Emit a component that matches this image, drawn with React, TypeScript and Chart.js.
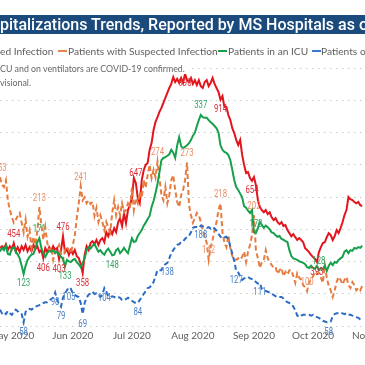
import React, { useEffect, useRef } from "react";
import { Chart, registerables } from "chart.js";
Chart.register(...registerables);

// Day index 0 = 2020-04-25, one category per day
const START = new Date(2020, 3, 25);
const DAY_COUNT = 192;
const MONTHS = ["Jan","Feb","Mar","Apr","May","Jun","Jul","Aug","Sep","Oct","Nov","Dec"];

const confirmed = [
  438,444,438,451,432,444,435,454,428,441,
  425,444,432,448,428,441,428,448,435,444,
  425,432,406,438,425,441,428,444,432,438,
  403,432,476,425,435,416,432,419,432,412,
  406,387,358,416,444,432,454,460,451,464,
  448,464,470,457,489,476,496,483,502,489,
  521,534,509,550,518,560,576,598,663,647,
  598,582,656,688,705,711,753,775,817,843,
  858,875,888,904,920,936,952,965,987,971,
  981,968,984,968,998,977,971,984,965,977,
  961,977,958,952,971,977,958,968,984,965,
  952,939,914,926,891,891,865,849,823,807,
  785,769,785,737,705,679,682,663,654,666,
  640,592,570,560,553,560,547,553,537,528,
  534,521,515,521,509,512,496,486,476,483,
  473,464,470,464,457,438,432,425,416,409,
  403,393,425,441,454,457,473,486,480,464,
  476,496,486,502,521,544,560,602,595,592,
  586,582,586,576,573
];
const suspected = [
  253,243,240,249,222,209,200,192,196,201,
  205,192,179,196,173,182,158,173,162,182,
  213,189,169,186,165,155,159,142,153,157,
  162,149,142,155,159,155,151,162,175,198,
  218,241,222,226,218,222,217,220,201,212,
  193,202,193,182,193,185,179,205,222,202,
  213,202,218,206,209,218,212,239,209,225,
  218,233,225,249,239,256,270,252,263,253,
  274,252,229,222,240,218,229,249,256,236,
  220,213,229,236,249,273,216,202,192,198,
  205,202,193,182,173,165,142,159,169,182,
  193,209,218,179,165,159,175,158,147,144,
  142,144,142,146,153,139,153,162,175,202,
  155,144,131,139,142,155,144,139,135,131,
  132,123,128,131,120,126,122,128,128,120,
  111,124,118,115,108,105,100,112,115,120,
  126,123,124,118,111,135,118,107,101,92,
  101,112,119,115,109,115,119,108,104,112,
  108,101,104,101,107
];
const icu = [
  153,158,155,161,150,149,157,159,153,149,
  144,134,123,134,142,146,149,150,158,166,
  171,158,151,146,151,154,153,155,151,153,
  149,146,144,133,142,140,139,142,143,139,
  136,132,138,144,155,159,157,161,163,158,
  153,155,151,149,154,157,153,148,149,155,
  157,151,154,158,154,151,161,171,166,167,
  174,178,182,188,192,197,201,213,221,232,
  244,260,276,279,280,282,284,290,286,279,
  296,307,295,292,294,296,299,303,309,313,
  322,330,337,334,333,333,330,327,325,322,
  319,313,296,290,287,286,283,276,263,249,
  240,236,231,226,214,212,208,205,209,179,
  178,185,193,189,185,188,186,183,179,178,
  175,173,174,170,169,167,166,155,147,144,
  143,142,140,139,138,136,132,131,134,131,
  130,134,128,131,129,134,127,134,138,135,
  139,138,142,144,146,153,155,151,155,154,
  158,157,159,158,161
];
const ventilators = [
  75,70,72,69,73,70,68,72,75,73,
  70,69,58,72,75,76,75,77,79,80,
  81,83,84,85,85,88,89,91,98,88,
  83,79,91,97,101,105,103,97,95,93,
  92,84,69,84,91,95,97,99,96,97,
  95,92,95,104,99,93,92,93,92,91,
  92,91,88,88,89,91,89,87,85,84,
  84,88,92,96,100,104,105,108,112,120,
  128,128,128,134,136,138,144,151,155,159,
  162,163,166,167,170,173,174,179,185,186,
  186,185,188,187,186,185,186,184,186,184,
  181,177,173,171,172,173,170,160,150,140,
  127,125,120,115,117,118,119,117,116,115,
  112,110,111,103,101,100,99,98,96,95,
  93,92,92,92,90,87,85,84,82,79,
  74,67,65,67,68,68,68,68,67,68,
  66,65,64,62,60,59,58,58,59,66,
  69,70,70,71,70,69,70,68,68,67,
  66,65,64,62,61
];

// indices of points that carry a data label: [index, "a"bove | "b"elow]
const confirmedLabels = [[7,"a"],[22,"b"],[30,"b"],[32,"a"],[42,"b"],[69,"a"],[94,"b"],[112,"b"],[128,"b"],[161,"b"]];
const suspectedLabels = [[0,"a"],[20,"a"],[41,"a"],[80,"a"],[95,"a"],[106,"a"],[112,"a"],[129,"a"],[156,"a"]];
const icuLabels = [[12,"b"],[20,"a"],[33,"b"],[57,"b"],[102,"a"],[130,"a"],[162,"a"]];
const ventLabels = [[12,"b"],[28,"b"],[31,"b"],[35,"b"],[42,"b"],[53,"b"],[70,"b"],[85,"b"],[102,"b"],[120,"b"],[132,"b"],[167,"b"]];

const dates: Date[] = [];
for (let i = 0; i < DAY_COUNT; i++) {
  dates.push(new Date(START.getFullYear(), START.getMonth(), START.getDate() + i));
}
const categories = dates.map((d) => `${d.getFullYear()}-${d.getMonth() + 1}-${d.getDate()}`);

const labelPlugin = {
  id: "pointLabels",
  afterDatasetsDraw(chart: any) {
    const ctx = chart.ctx;
    ctx.save();
    ctx.font = "10px Roboto, sans-serif";
    ctx.textAlign = "center";
    ctx.textBaseline = "middle";
    chart.data.datasets.forEach((ds: any, di: number) => {
      const meta = chart.getDatasetMeta(di);
      ctx.fillStyle = ds.labelColor;
      ds.labelIdx.forEach(([i, pos]: [number, string]) => {
        const el = meta.data[i];
        if (!el) return;
        const y = pos === "a" ? el.y - 9 : el.y + 10;
        ctx.save();
        ctx.translate(el.x, y);
        ctx.scale(0.78, 1);
        ctx.fillText(String(ds.data[i]), 0, 0);
        ctx.restore();
      });
    });
    ctx.restore();
  },
};

function ChartCanvas() {
  const ref = useRef<HTMLCanvasElement>(null);
  useEffect(() => {
    if (!ref.current) return;
    const chart = new Chart(ref.current, {
      type: "line",
      data: {
        labels: categories,
        datasets: [
          { label: "Patients with Confirmed Infection", data: confirmed, yAxisID: "y2", borderColor: "#e3151c", borderWidth: 2, pointRadius: 0, tension: 0, order: 4, labelIdx: confirmedLabels, labelColor: "#de2f3a" } as any,
          { label: "Patients with Suspected Infection", data: suspected, yAxisID: "y", borderColor: "#e67c3f", borderWidth: 2, borderDash: [5, 3], pointRadius: 0, tension: 0, order: 3, labelIdx: suspectedLabels, labelColor: "#e8916a" } as any,
          { label: "Patients in an ICU", data: icu, yAxisID: "y", borderColor: "#17a04b", borderWidth: 2, pointRadius: 0, tension: 0, order: 2, labelIdx: icuLabels, labelColor: "#36a366" } as any,
          { label: "Patients on Ventilators", data: ventilators, yAxisID: "y", borderColor: "#2b6cc4", borderWidth: 2, borderDash: [5, 3], pointRadius: 0, tension: 0, order: 1, labelIdx: ventLabels, labelColor: "#4a82c6" } as any,
        ],
      },
      options: {
        animation: false,
        responsive: false,
        maintainAspectRatio: false,
        devicePixelRatio: 1,
        layout: { padding: 0 },
        plugins: { legend: { display: false }, title: { display: false }, tooltip: { enabled: false } },
        scales: {
          x: {
            type: "category",
            grid: { display: false, drawTicks: false },
            border: { display: false },
            ticks: {
              autoSkip: false,
              maxRotation: 0,
              minRotation: 0,
              padding: 4,
              color: "#605e5c",
              font: { size: 10, family: "'Segoe UI', Lato, sans-serif" },
              callback: (_v: any, idx: number) => {
                const d = dates[idx];
                return d && d.getDate() === 1 ? `${MONTHS[d.getMonth()]} 2020` : "";
              },
            },
            afterFit: (s: any) => { s.height = 30; },
          },
          g: {
            type: "linear",
            position: "left",
            min: 0,
            max: 8,
            ticks: { stepSize: 1, display: false },
            grid: { color: "#c9c9c9", drawTicks: false, lineWidth: 1 },
            border: { display: false, dash: [1.5, 4.5] },
            afterFit: (s: any) => { s.width = 0; },
          },
          y: { type: "linear", display: false, min: 53, max: 400 },
          y2: { type: "linear", display: false, min: 188, max: 1016 },
        },
      } as any,
      plugins: [labelPlugin],
    });
    return () => chart.destroy();
  }, []);
  return <canvas ref={ref} width={384} height={288} style={{ position: "absolute", left: -4, top: 68, width: 384, height: 288 }} />;
}

const legendFont = "Lato, 'Segoe UI', sans-serif";

export default function App() {
  const marker = (color: string, left: number) => (
    <span style={{ position: "absolute", left, top: 50, width: 9, height: 2, background: color }} />
  );
  return (
    <div style={{ position: "fixed", left: 0, top: 0, width: 365, height: 365, overflow: "hidden", background: "#fff" }}>
      <ChartCanvas />
      <div style={{ position: "absolute", left: 0, top: 15, width: 365, height: 19, background: "#1b4a7c" }} />
      <div style={{ position: "absolute", left: 0, top: 15, height: 19, lineHeight: "19px", color: "#fff", fontFamily: "Roboto, sans-serif", fontWeight: 500, fontSize: 16, whiteSpace: "nowrap" }}>
        pitalizations Trends, Reported by MS Hospitals as of
      </div>
      <div style={{ position: "absolute", left: 0, top: 44, height: 14, lineHeight: "14px", color: "#605e5c", fontFamily: legendFont, fontSize: 10.2, whiteSpace: "nowrap" }}>
        <span style={{ position: "absolute", left: 0 }}>ed Infection</span>
        <span style={{ position: "absolute", left: 68 }}>Patients with Suspected Infection</span>
        <span style={{ position: "absolute", left: 228 }}>Patients in an ICU</span>
        <span style={{ position: "absolute", left: 321 }}>Patients o</span>
      </div>
      {marker("#e8834e", 58)}
      {marker("#18a04c", 218)}
      {marker("#3a78c9", 312)}
      <div style={{ position: "absolute", left: 0, top: 62, lineHeight: "13px", color: "#666", fontFamily: legendFont, fontSize: 8.8, whiteSpace: "nowrap" }}>
        <div><span style={{ background: "#fff", paddingRight: 3 }}>CU and on ventilators are COVID-19 confirmed.</span></div>
        <div style={{ marginTop: 1 }}><span style={{ background: "#fff", paddingRight: 3 }}>visional.</span></div>
      </div>
    </div>
  );
}
